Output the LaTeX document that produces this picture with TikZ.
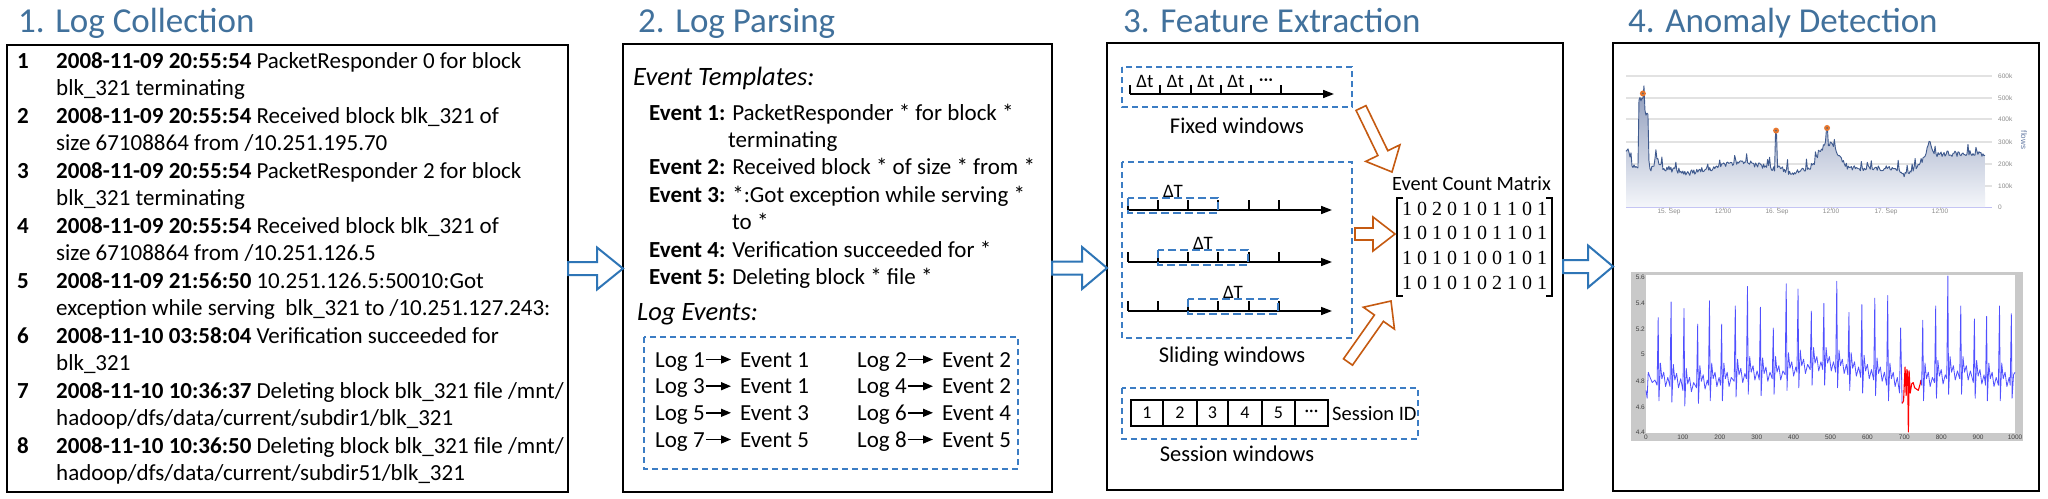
\documentclass[tikz,border=0pt]{standalone}
\usepackage{fontspec}
\setmainfont{Carlito}
\newfontfamily\matfont{Liberation Serif}
\newfontfamily\chartfont{Liberation Sans}
\usetikzlibrary{calc,arrows.meta}
\definecolor{titleblue}{HTML}{41719C}
\definecolor{dashblue}{HTML}{3C7DC4}
\definecolor{arrowblue}{HTML}{2E75B6}
\definecolor{orangearrow}{HTML}{C55A11}
\definecolor{chartline}{HTML}{3F5A8E}
\definecolor{charttop}{HTML}{8E9BBB}
\definecolor{chartbot}{HTML}{F4F6FA}
\definecolor{gridgray}{HTML}{E2E2E2}
\definecolor{plotblue}{HTML}{5050FF}
\definecolor{markorange}{HTML}{E8772E}
\definecolor{framegray}{HTML}{C9C9C9}
\newcommand{\hollowarrow}[7]{%
  \coordinate (#7hb) at ($(#3)!#6!(#2)$);
  \draw[#1] ($(#2)!#4!90:(#3)$) -- ($(#7hb)!#4!90:(#3)$) -- ($(#7hb)!#5!90:(#3)$) -- (#3)
     -- ($(#7hb)!#5!-90:(#3)$) -- ($(#7hb)!#4!-90:(#3)$) -- ($(#2)!#4!-90:(#3)$) -- cycle;
}
\begin{document}
\begin{tikzpicture}[x=1pt,y=-1pt,
  title/.style={anchor=base west, inner sep=0pt, text=titleblue, font=\fontsize{35}{40}\selectfont},
  panel/.style={draw=black, line width=2pt, fill=white, anchor=north west, inner sep=0pt, outer sep=0pt},
  txt/.style={anchor=base west, inner sep=0pt, font=\fontsize{23}{27.5}\selectfont},
  ital/.style={anchor=base west, inner sep=0pt, font=\fontsize{26.5}{30}\selectfont\itshape},
  dbox/.style={draw=dashblue, line width=1.8pt, dash pattern=on 6pt off 4pt},
  wbox/.style={draw=dashblue, line width=1.5pt, dash pattern=on 8pt off 4pt},
  logtxt/.style={anchor=base west, inner sep=0pt, text height=15pt, text depth=0pt, font=\fontsize{23}{27.5}\selectfont},
  logarrow/.style={line width=1.5pt, -{Triangle[length=10pt,width=8pt]}, shorten >=9pt, shorten <=1pt},
  axisarrow/.style={line width=1.6pt, -{Triangle[length=11pt,width=8pt]}},
  tick/.style={line width=1.3pt},
  small/.style={inner sep=0pt, font=\fontsize{19}{22}\selectfont},
  lab/.style={anchor=base, inner sep=0pt, font=\fontsize{22.5}{26}\selectfont},
  bluearrow/.style={draw=arrowblue, line width=2pt, fill=white, line join=miter},
  orarrow/.style={draw=orangearrow, line width=1.6pt, fill=white, line join=miter},
  chartlab/.style={inner sep=0pt, text=black!45, font=\chartfont\fontsize{6.5}{7}\selectfont},
  plotlab/.style={inner sep=0pt, text=black!75, font=\chartfont\fontsize{6.5}{7}\selectfont},
  declare function={
    bmp(\xa,\xc,\xw)=(abs(\xa-\xc)<\xw)*(0.5+0.5*cos(180*(\xa-\xc)/\xw));
    flows(\xa)=178+90*bmp(\xa,0,0.025)+320*(\xa>0.036)*(\xa<0.052)+255*(\xa>=0.052)*(\xa<0.062)
      +45*bmp(\xa,0.085,0.012)-22*bmp(\xa,0.17,0.07)+28*bmp(\xa,0.32,0.09)
      +165*(\xa>0.415)*(\xa<0.421)-20*bmp(\xa,0.46,0.04)+115*bmp(\xa,0.565,0.06)
      +60*(\xa>0.556)*(\xa<0.562)
      -28*bmp(\xa,0.775,0.04)+65*(\xa>0.8)*min(1,(\xa-0.8)/0.045)+55*bmp(\xa,0.845,0.012);
  }]
\useasboundingbox[fill=white] (0,0) rectangle (2048,498);

% ---------- titles ----------
\node[title] (t1) at (18,32) {1. Log Collection};
\node[title] (t2) at (638,32) {2. Log Parsing};
\node[title] (t3) at (1123,32) {3. Feature Extraction};
\node[title] (t4) at (1628,32) {4. Anomaly Detection};

% ---------- panels ----------
\node[panel, minimum width=561pt, minimum height=447pt] (box1) at (7,45) {};
\node[panel, minimum width=429pt, minimum height=448pt] (box2) at (623,44) {};
\node[panel, minimum width=456pt, minimum height=447pt] (box3) at (1107,43) {};
\node[panel, minimum width=426pt, minimum height=448pt] (box4) at (1613,43) {};

% ---------- blue arrows between panels ----------
\coordinate (a1t) at (box1.east -| box2.west);
\coordinate (a2s) at (box2.east);
\coordinate (a2t) at (box2.east -| box3.west);
\coordinate (a3s) at (box3.east);
\coordinate (a3t) at (box3.east -| box4.west);
\hollowarrow{bluearrow}{box1.east}{a1t}{6.5pt}{21pt}{26pt}{ba}
\hollowarrow{bluearrow}{a2s}{a2t}{6.5pt}{21pt}{25pt}{bb}
\hollowarrow{bluearrow}{a3s}{a3t}{6.5pt}{21pt}{25pt}{bc}

% ---------- panel 1 ----------
\node[txt] (n1) at (17,68) {\textbf{1}};
\node[txt] (e1a) at (56,68) {\textbf{2008-11-09 20:55:54} PacketResponder 0 for block};
\node[txt] (e1b) at (56,95.5) {blk\_321 terminating};
\node[txt] (n2) at (17,123) {\textbf{2}};
\node[txt] (e2a) at (56,123) {\textbf{2008-11-09 20:55:54} Received block blk\_321 of};
\node[txt] (e2b) at (56,150.5) {size 67108864 from /10.251.195.70};
\node[txt] (n3) at (17,178) {\textbf{3}};
\node[txt] (e3a) at (56,178) {\textbf{2008-11-09 20:55:54} PacketResponder 2 for block};
\node[txt] (e3b) at (56,205.5) {blk\_321 terminating};
\node[txt] (n4) at (17,233) {\textbf{4}};
\node[txt] (e4a) at (56,233) {\textbf{2008-11-09 20:55:54} Received block blk\_321 of};
\node[txt] (e4b) at (56,260.5) {size 67108864 from /10.251.126.5};
\node[txt] (n5) at (17,288) {\textbf{5}};
\node[txt] (e5a) at (56,288) {\textbf{2008-11-09 21:56:50} 10.251.126.5:50010:Got};
\node[txt] (e5b) at (56,315.5) {exception while serving\ \ blk\_321 to /10.251.127.243:};
\node[txt] (n6) at (17,343) {\textbf{6}};
\node[txt] (e6a) at (56,343) {\textbf{2008-11-10 03:58:04} Verification succeeded for};
\node[txt] (e6b) at (56,370.5) {blk\_321};
\node[txt] (n7) at (17,398) {\textbf{7}};
\node[txt] (e7a) at (56,398) {\textbf{2008-11-10 10:36:37} Deleting block blk\_321 file /mnt/};
\node[txt] (e7b) at (56,425.5) {hadoop/dfs/data/current/subdir1/blk\_321};
\node[txt] (n8) at (17,453) {\textbf{8}};
\node[txt] (e8a) at (56,453) {\textbf{2008-11-10 10:36:50} Deleting block blk\_321 file /mnt/};
\node[txt] (e8b) at (56,480.5) {hadoop/dfs/data/current/subdir51/blk\_321};

% ---------- panel 2 ----------
\node[ital] (etpl) at (633,85) {Event Templates:};
\node[txt] (ev1t) at (649,120) {\textbf{Event 1:} PacketResponder * for block *};
\node[txt] (ev1c) at (728,147.4) {terminating};
\node[txt] (ev2t) at (649,174.8) {\textbf{Event 2:} Received block * of size * from *};
\node[txt] (ev3t) at (649,202.2) {\textbf{Event 3:} *:Got exception while serving *};
\node[txt] (ev3c) at (732,229.6) {to *};
\node[txt] (ev4t) at (649,257) {\textbf{Event 4:} Verification succeeded for *};
\node[txt] (ev5t) at (649,284.4) {\textbf{Event 5:} Deleting block * file *};
\node[ital] (levt) at (637,320) {Log Events:};
\draw[dbox] (644,337) rectangle (1018,469);
\foreach \i/\e/\cx/\yy in {1/1/655/367, 2/2/857/367, 3/1/655/393.7, 4/2/857/393.7,
                           5/3/655/420.3, 6/4/857/420.3, 7/5/655/447, 8/5/857/447}{
  \node[logtxt] (lg\i) at (\cx,\yy) {Log \i};
  \node[logtxt] (ev\i) at ({\cx+85},\yy) {Event \e};
  \draw[logarrow] (lg\i.east) -- (ev\i.west);
}

% ---------- panel 3 ----------
% fixed windows
\draw[dbox] (1122,67) rectangle (1352,107);
\coordinate (fx0) at (1130,94);
\coordinate (fx1) at (1334,94);
\draw[axisarrow] (fx0) -- (fx1);
\foreach \tx in {1130,1160,1191,1221,1251,1281}{\draw[tick] (\tx,94) -- (\tx,85);}
\foreach \tx/\nm in {1145/d1,1175.5/d2,1206/d3,1236/d4}{\node[small, anchor=base] (\nm) at (\tx,87) {Δt};}
\node[small, anchor=base] (dd) at (1266,85) {···};
\node[lab] (fixl) at (1237,133) {Fixed windows};
% sliding windows
\draw[dbox] (1122,162) rectangle (1352,338);
\foreach \ay/\wx/\k in {210/1128/1, 262/1158/2, 311/1188/3}{
  \coordinate (sa\k) at (1128,\ay);
  \coordinate (sb\k) at (1332,\ay);
  \draw[axisarrow] (sa\k) -- (sb\k);
  \foreach \tx in {1128,1158,1188,1218,1249,1279}{\draw[tick] (\tx,\ay) -- (\tx,{\ay-10});}
  \draw[wbox] (\wx,{\ay-12}) rectangle ({\wx+90},{\ay+3});
  \node[small, anchor=base] (dT\k) at ({\wx+45},{\ay-13}) {ΔT};
}
\node[lab] (slil) at (1232,362) {Sliding windows};
% session windows
\draw[dbox] (1122,388) rectangle (1418,439);
\foreach \xl/\xr/\t/\k in {1131/1163/1/1, 1163/1197/2/2, 1197/1228/3/3, 1228/1262/4/4, 1262/1295/5/5, 1295/1328/···/6}{
  \node[draw, line width=1.5pt, inner sep=0pt, minimum width={(\xr-\xl)*1pt}, minimum height=26pt,
        font=\fontsize{18}{20}\selectfont] (c\k) at ({(\xl+\xr)/2},413) {\t};
}
\node[anchor=base west, inner sep=0pt, font=\fontsize{20.5}{24}\selectfont] (sid) at (1332,420) {Session ID};
\node[lab] (sesl) at (1237,461) {Session windows};
% matrix
\node[anchor=base west, inner sep=0pt, font=\fontsize{20.3}{24}\selectfont] (ecm) at (1392,190) {Event Count Matrix};
\draw[line width=1.2pt] (1403,198) -- (1397,198) -- (1397,296) -- (1403,296);
\draw[line width=1.2pt] (1546,198) -- (1552,198) -- (1552,296) -- (1546,296);
\foreach \r/\yy/\k in {1 0 2 0 1 0 1 1 0 1/215/1, 1 0 1 0 1 0 1 1 0 1/239.7/2, 1 0 1 0 1 0 0 1 0 1/264.3/3, 1 0 1 0 1 0 2 1 0 1/289/4}{
  \node[anchor=base, inner sep=0pt, font=\matfont\fontsize{20}{24}\selectfont] (m\k) at (1474.5,\yy) {\r};
}
% orange arrows
\coordinate (oa1) at (1361,108);  \coordinate (oa2) at (1392,172);
\coordinate (ob1) at (1355,234);  \coordinate (ob2) at (1395,234);
\coordinate (oc1) at (1348,362);  \coordinate (oc2) at (1391,301);
\hollowarrow{orarrow}{oa1}{oa2}{5.5pt}{19pt}{21pt}{oa}
\hollowarrow{orarrow}{ob1}{ob2}{6pt}{17pt}{22pt}{ob}
\hollowarrow{orarrow}{oc1}{oc2}{5.5pt}{19pt}{21pt}{oc}

% ---------- panel 4: top chart ----------
\foreach \gy in {76,98,119,142,164,186}{\draw[gridgray, line width=1.2pt] (1626,\gy) -- (1992,\gy);}
\draw[black!20!blue!25, line width=1pt] (1626,207) -- (1992,207);
\foreach \gy/\gl in {76/600k,98/500k,119/400k,142/300k,164/200k,186/100k,207/0}{
  \node[chartlab, anchor=west] at (1998,\gy) {\gl};
}
\node[inner sep=0pt, rotate=-90, text=chartline!80, font=\chartfont\fontsize{8}{9}\selectfont] (flw) at (2024,140) {flows};
\foreach \lx/\lt in {1669/15. Sep,1723/12:00,1777/16. Sep,1831/12:00,1886/17. Sep,1940/12:00}{
  \draw[black!25, line width=0.6pt] (\lx,207) -- (\lx,210);
  \node[chartlab, anchor=north] at (\lx,209) {\lt};
}
\begin{scope}[shift={(1626pt,-207pt)}, x=359pt, y=0.2183pt]
  \pgfmathsetseed{4242}
  \shade[top color=charttop, bottom color=chartbot] (0,0) -- plot[domain=0:1, samples=360]
     (\x, {flows(\x)+26*rnd-13+(rnd>0.9)*55*rnd}) -- (1,0) -- cycle;
  \pgfmathsetseed{4242}
  \draw[chartline, line width=0.9pt, line join=round] plot[domain=0:1, samples=360]
     (\x, {flows(\x)+26*rnd-13+(rnd>0.9)*55*rnd});
  \foreach \mx/\my in {0.047/520, 0.418/350, 0.56/362}{
    \fill[markorange] (\mx,\my) circle (3pt);
    \fill[black!60] (\mx,\my) circle (1pt);
  }
\end{scope}

% ---------- panel 4: bottom chart ----------
\fill[framegray] (1631,272) rectangle (2023,441);
\fill[white] (1646,275) rectangle (2015,433);
\foreach \vy/\vl in {277/5.6,303/5.4,329/5.2,354/5,381/4.8,407/4.6,432/4.4}{
  \node[plotlab, anchor=east] at (1645,\vy) {\vl};
}
\foreach \u in {0,100,...,1000}{
  \node[plotlab, anchor=north] at ({1646+0.369*\u},434.5) {\u};
}
\begin{scope}[shift={(1646pt,-1004pt)}, x=0.369pt, y=130pt]
  \draw[plotblue, line width=0.8pt, line join=round] (0,4.72) -- (3,4.66) -- (6,4.86) -- (11,4.82) -- (17,4.78) -- (24,4.80)
    \foreach \xo/\pk/\bs in {33/5.28/4.80, 68/5.40/4.79, 103/5.35/4.76, 140/5.23/4.78, 172/5.41/4.80,
        205/5.23/4.80, 242/5.37/4.83, 275/5.52/4.85, 310/5.36/4.84, 345/5.20/4.85, 380/5.54/4.88,
        412/5.50/4.90, 448/5.33/4.92, 482/5.39/4.92, 517/5.56/4.90, 550/5.32/4.88, 585/5.38/4.86,
        620/5.43/4.84, 655/5.45/4.80}{
      -- ({\xo-3},{\bs-0.04}) -- (\xo,\pk) -- ({\xo+2},{\bs-0.16}) -- ({\xo+6},{\bs+0.13})
      -- ({\xo+10},{\bs+0.01}) -- ({\xo+15},{\bs+0.06}) -- ({\xo+20},{\bs-0.05}) -- ({\xo+26},{\bs+0.02})}
    -- (687,4.70) -- (690,5.2) -- (694,4.62);
  \draw[red, line width=1.1pt, line join=round] (694,4.62) -- (698,4.64) -- (702,4.9) -- (705,4.68) -- (707,4.88)
    -- (709,4.86) -- (711,4.4) -- (713,4.87) -- (716,4.7) -- (720,4.77) -- (724,4.78) -- (728,4.74)
    -- (733,4.73) -- (738,4.72) -- (743,4.77) -- (745,4.8);
  \draw[plotblue, line width=0.8pt, line join=round] (745,4.8)
    \foreach \xo/\pk/\bs in {750/5.26/4.80, 785/5.37/4.82, 818/5.60/4.85, 853/5.37/4.85, 890/5.27/4.82,
        923/5.29/4.80, 958/5.37/4.80}{
      -- ({\xo-3},{\bs-0.04}) -- (\xo,\pk) -- ({\xo+2},{\bs-0.16}) -- ({\xo+6},{\bs+0.13})
      -- ({\xo+10},{\bs+0.01}) -- ({\xo+15},{\bs+0.06}) -- ({\xo+20},{\bs-0.05}) -- ({\xo+26},{\bs+0.02})}
    -- (987,4.76) -- (990,5.31) -- (992,4.66) -- (996,4.84) -- (1000,4.86);
\end{scope}
\end{tikzpicture}
\end{document}
